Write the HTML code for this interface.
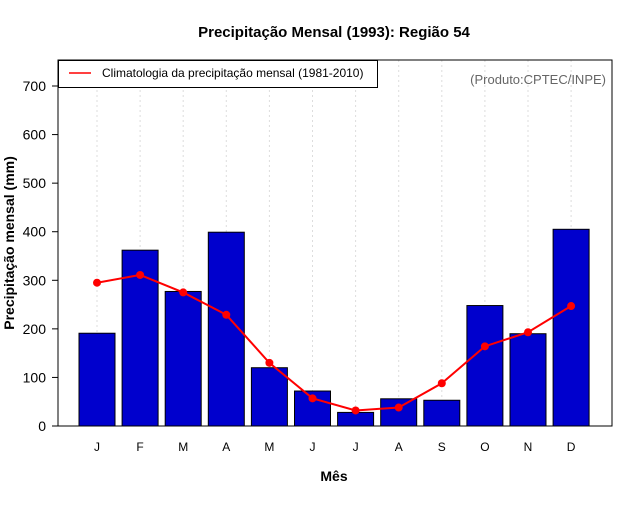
<!DOCTYPE html>
<html><head><meta charset="utf-8"><style>
body{margin:0;background:#fff;}
svg text{font-family:"Liberation Sans",Arial,sans-serif;}
</style></head><body>
<svg width="640" height="500" xmlns="http://www.w3.org/2000/svg">
<rect width="640" height="500" fill="#fff"/>
<text x="334" y="37" text-anchor="middle" font-size="15" font-weight="bold">Precipitação Mensal (1993): Região 54</text>
<g id="grid"></g>
<g id="bars"></g>
<g id="line"></g>
<g id="axes"></g>
<rect x="58" y="60" width="554" height="366" fill="none" stroke="#000" stroke-width="1"/>
<g>
<rect x="58.5" y="60.5" width="319" height="27" fill="#fff" stroke="#000"/>
<line x1="69" y1="73" x2="91" y2="73" stroke="#f00" stroke-width="1.5"/>
<text x="102" y="77" font-size="12">Climatologia da precipitação mensal (1981-2010)</text>
</g>
<text x="606" y="84" text-anchor="end" font-size="13" fill="#666">(Produto:CPTEC/INPE)</text>
<text x="334" y="481" text-anchor="middle" font-size="14" font-weight="bold">Mês</text>
<text transform="translate(14,243) rotate(-90)" text-anchor="middle" font-size="14" font-weight="bold">Precipitação mensal (mm)</text>
</svg>
<script>
const months=["J","F","M","A","M","J","J","A","S","O","N","D"];
const observed=[191,362,277,399,120,72,28,56,53,248,190,405];
const climatology=[295,311,275,229,130,57,32,38,88,164,193,247];
const yTicks=[0,100,200,300,400,500,600,700];
const NS="http://www.w3.org/2000/svg";
const x=i=>97+i*43.1;
const y=v=>426-v*0.4857;
function mk(t,a,p){const e=document.createElementNS(NS,t);for(const k in a)e.setAttribute(k,a[k]);p.appendChild(e);return e;}
const grid=document.getElementById('grid'),bars=document.getElementById('bars'),line=document.getElementById('line'),axes=document.getElementById('axes');
months.forEach((m,i)=>{
 const g=mk('line',{x1:x(i),x2:x(i),y1:60,y2:426,stroke:'#ddd','stroke-dasharray':'2,3'},grid);
 
 
 const b=mk('rect',{x:x(i)-18,y:y(observed[i]),width:36,height:426-y(observed[i]),fill:'#0000cd',stroke:'#000','stroke-width':1},bars);
 
 
 const t=mk('text',{x:x(i),y:451,'text-anchor':'middle','font-size':12},axes);t.textContent=m;
 
 
});
const pl=mk('polyline',{points:climatology.map((v,i)=>x(i)+','+y(v)).join(' '),fill:'none',stroke:'#f00','stroke-width':2},line);


climatology.forEach((v,i)=>{const c=mk('circle',{cx:x(i),cy:y(v),r:4,fill:'#f00'},line);
 
 });
yTicks.forEach(v=>{
 const l=mk('line',{x1:52,x2:58,y1:y(v),y2:y(v),stroke:'#000'},axes);
 
 
 const t=mk('text',{x:46,y:y(v)+5,'text-anchor':'end','font-size':14},axes);t.textContent=v;
 
 
});
</script>
</body></html>
